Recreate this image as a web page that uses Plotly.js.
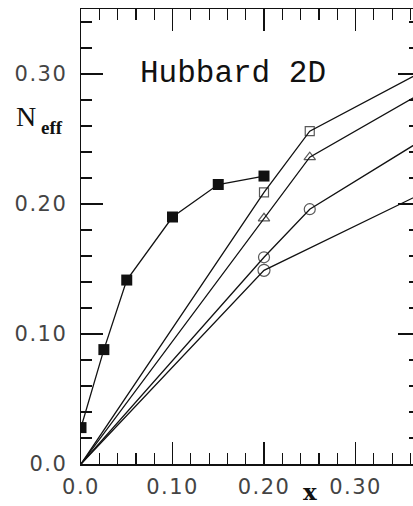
<!DOCTYPE html>
<html>
<head>
<meta charset="utf-8">
<script src="https://cdn.plot.ly/plotly-3.0.1.min.js"></script>
<style>
html, body { margin: 0; padding: 0; overflow: hidden; background: #fff; width: 413px; height: 506px; }
#chart { width: 430px; height: 506px; }
.xtick text, .ytick text { letter-spacing: 1.5px; }
</style>
</head>
<body>
<div id="chart"></div>
<script>
// ---- data ----
const filledX = [0, 0.025, 0.05, 0.10, 0.15, 0.20];
const filledY = [0.028, 0.088, 0.1415, 0.19, 0.215, 0.2215];

const squareX = [0, 0.20, 0.25, 0.40];
const squareY = [0, 0.209, 0.256, 0.312];

const triangleX = [0, 0.20, 0.25, 0.40];
const triangleY = [0, 0.189, 0.236, 0.2965];

const circleAX = [0, 0.20, 0.25, 0.40];
const circleAY = [0, 0.159, 0.196, 0.261];

const circleBX = [0, 0.20, 0.40];
const circleBY = [0, 0.149, 0.2174];

const xTickVals = [0, 0.10, 0.20, 0.30];
const xTickText = ["0.0", "0.10", "0.20", "0.30"];
const yTickVals = [0, 0.10, 0.20, 0.30];
const yTickText = ["0.0", "0.10", "0.20", "0.30"];

// ---- layout geometry ----
const W = 430, H = 506;
const mL = 81, mR = 10, mT = 9, mB = 42;
const plotW = W - mL - mR, plotH = H - mT - mB;
const xMax = plotW / 915;
const yMax = 0.35;
const px = p => (p - mL) / plotW;
const py = p => (H - mB - p) / plotH;

const lineStyle = {color: '#111', width: 1.3};
const noOrigin = (xs, s) => xs.map(v => v === 0 ? 0 : s);

const traces = [
  {x: filledX, y: filledY, mode: 'lines+markers', line: lineStyle,
   marker: {symbol: 'square', size: 11, color: '#111'}},
  {x: squareX, y: squareY, mode: 'lines+markers', line: lineStyle,
   marker: {symbol: 'square-open', size: noOrigin(squareX, 9), color: '#111', line: {width: 1.2}}},
  {x: triangleX, y: triangleY, mode: 'lines+markers', line: lineStyle,
   marker: {symbol: 'triangle-up-open', size: noOrigin(triangleX, 10), color: '#111', line: {width: 1.2}}},
  {x: circleAX, y: circleAY, mode: 'lines+markers', line: lineStyle,
   marker: {symbol: 'circle-open', size: noOrigin(circleAX, 11), color: '#111', line: {width: 1.2}}},
  {x: circleBX, y: circleBY, mode: 'lines+markers', line: lineStyle,
   marker: {symbol: 'circle-open', size: noOrigin(circleBX, 12), color: '#111', line: {width: 1.2}}}
];

const tickFont = {family: 'DejaVu Sans', size: 21, color: '#444'};

const layout = {
  width: W, height: H,
  margin: {l: mL, r: mR, t: mT, b: mB, pad: 0},
  paper_bgcolor: '#fff', plot_bgcolor: '#fff',
  showlegend: false,
  xaxis: {
    range: [0, xMax], showgrid: false, zeroline: false,
    showline: true, linecolor: '#111', linewidth: 1.5, mirror: 'ticks',
    ticks: 'inside', ticklen: 22, tickwidth: 1.2, tickcolor: '#111',
    tickvals: xTickVals, ticktext: xTickText, tickfont: tickFont,
    ticklabelstandoff: 3,
    minor: {dtick: 0.02, tick0: 0, ticks: 'inside', ticklen: 11, tickwidth: 1.2, tickcolor: '#111', showgrid: false}
  },
  yaxis: {
    range: [0, yMax], showgrid: false, zeroline: false,
    showline: true, linecolor: '#111', linewidth: 1.5, mirror: 'ticks',
    ticks: 'inside', ticklen: 22, tickwidth: 1.2, tickcolor: '#111',
    tickvals: yTickVals, ticktext: yTickText, tickfont: tickFont,
    ticklabelstandoff: 8,
    minor: {dtick: 0.02, tick0: 0, ticks: 'inside', ticklen: 11, tickwidth: 1.2, tickcolor: '#111', showgrid: false}
  },
  annotations: [
    {xref: 'paper', yref: 'paper', x: px(233), y: py(73), xanchor: 'center', yanchor: 'middle',
     text: 'Hubbard 2D', showarrow: false,
     font: {family: 'Liberation Mono', size: 31, color: '#111'}},
    {xref: 'paper', yref: 'paper', x: px(38), y: py(116), xanchor: 'right', yanchor: 'middle',
     text: 'N', showarrow: false,
     font: {family: 'Liberation Serif', size: 28, color: '#111'}},
    {xref: 'paper', yref: 'paper', x: px(39), y: py(128), xanchor: 'left', yanchor: 'middle',
     text: '<b>eff</b>', showarrow: false,
     font: {family: 'Liberation Serif', size: 19, color: '#111'}},
    {xref: 'paper', yref: 'paper', x: px(310), y: py(491), xanchor: 'center', yanchor: 'middle',
     text: '<b>x</b>', showarrow: false,
     font: {family: 'DejaVu Serif', size: 23, color: '#111'}}
  ]
};

Plotly.newPlot('chart', traces, layout, {staticPlot: true, displayModeBar: false});
</script>
</body>
</html>
